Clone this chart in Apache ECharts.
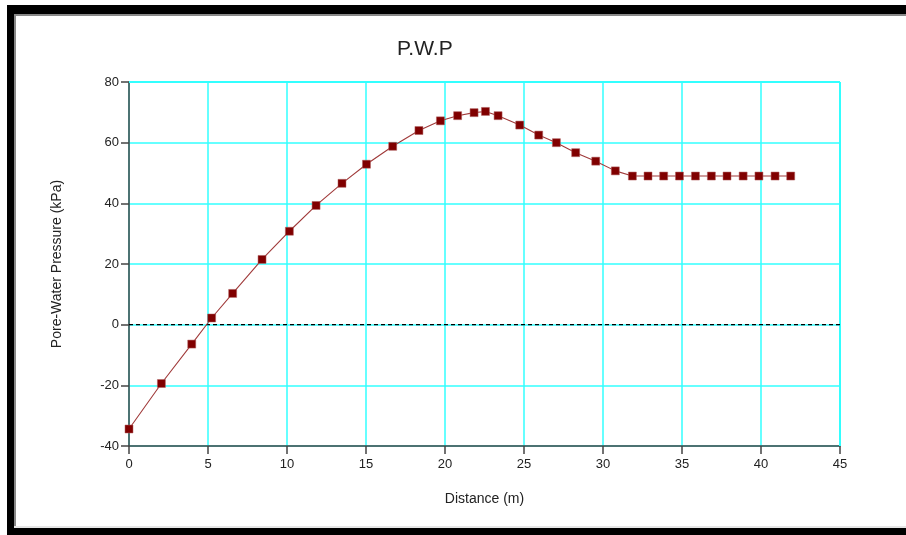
<!DOCTYPE html>
<html>
<head>
<meta charset="utf-8">
<script src="https://cdn.jsdelivr.net/npm/echarts@6/dist/echarts.min.js"></script>
<style>
html,body{margin:0;padding:0;background:#fff;}
#c{width:906px;height:535px;}
</style>
</head>
<body>
<div id="c"></div>
<script>
var titleText = 'P.W.P';
var xAxisName = 'Distance (m)';
var yAxisName = 'Pore-Water Pressure (kPa)';
var distance = [0, 2.05, 3.97, 5.23, 6.56, 8.42, 10.15, 11.84, 13.48, 15.03, 16.69, 18.35, 19.71, 20.8, 21.84, 22.56, 23.36, 24.73, 25.93, 27.05, 28.27, 29.54, 30.78, 31.86, 32.85, 33.84, 34.84, 35.85, 36.86, 37.85, 38.87, 39.87, 40.89, 41.88];
var pressure = [-34.4, -19.4, -6.4, 2.2, 10.3, 21.5, 30.8, 39.3, 46.6, 52.9, 58.8, 64.0, 67.2, 68.9, 69.9, 70.3, 68.9, 65.8, 62.5, 60.0, 56.7, 53.9, 50.7, 49.0, 49.0, 49.0, 49.0, 49.0, 49.0, 49.0, 49.0, 49.0, 49.0, 49.0];
var referenceLine = 0;

var chart = echarts.init(document.getElementById('c'), null, {renderer: 'canvas'});
var pts = distance.map(function (d, i) { return [d, pressure[i]]; });
var font = '"Liberation Sans", Arial, sans-serif';
chart.setOption({
  animation: false,
  backgroundColor: '#ffffff',
  title: {
    text: titleText, left: 392, top: 34,
    textStyle: {fontFamily: font, fontSize: 21, fontWeight: 'normal', color: '#222'}
  },
  graphic: [
    {type: 'rect', shape: {x: 7, y: 5, width: 899, height: 9}, style: {fill: '#000'}, silent: true},
    {type: 'rect', shape: {x: 14, y: 14, width: 892, height: 2}, style: {fill: '#888'}, silent: true},
    {type: 'rect', shape: {x: 7, y: 5, width: 7, height: 530}, style: {fill: '#000'}, silent: true},
    {type: 'rect', shape: {x: 14, y: 14, width: 2, height: 512}, style: {fill: '#888'}, silent: true},
    {type: 'rect', shape: {x: 14, y: 526, width: 892, height: 2}, style: {fill: '#e6e6e6'}, silent: true},
    {type: 'rect', shape: {x: 7, y: 528, width: 899, height: 7}, style: {fill: '#000'}, silent: true}
  ],
  grid: {left: 129, right: 66, top: 82, bottom: 89, containLabel: false,
    show: true, borderColor: '#33ffff', borderWidth: 0},
  xAxis: {
    type: 'value', min: 0, max: 45, interval: 5,
    name: xAxisName, nameLocation: 'middle', nameGap: 46,
    nameTextStyle: {fontFamily: font, fontSize: 14, color: '#222'},
    axisLine: {show: true, onZero: false, lineStyle: {color: '#444', width: 1.5}},
    axisTick: {show: true, length: 8, inside: false, lineStyle: {color: '#444', width: 1.5}},
    axisLabel: {fontFamily: font, fontSize: 13, color: '#222', margin: 12},
    splitLine: {show: true, lineStyle: {color: '#33ffff', width: 1.5}}
  },
  yAxis: {
    type: 'value', min: -40, max: 80, interval: 20,
    name: yAxisName, nameLocation: 'middle', nameGap: 65, nameRotate: 90,
    nameTextStyle: {fontFamily: font, fontSize: 14, color: '#222'},
    axisLine: {show: true, onZero: false, lineStyle: {color: '#444', width: 1.5}},
    axisTick: {show: true, length: 8, inside: false, lineStyle: {color: '#444', width: 1.5}},
    axisLabel: {fontFamily: font, fontSize: 13, color: '#222', margin: 10},
    splitLine: {show: true, lineStyle: {color: '#33ffff', width: 1.5}}
  },
  series: [
    {
      type: 'line', data: [[0, referenceLine], [45, referenceLine]],
      symbol: 'none', silent: true,
      lineStyle: {color: '#000', width: 1.2, type: [4, 3]}, z: 3
    },
    {
      type: 'line', data: [[45, 80], [45, -40]], symbol: 'none', silent: true,
      lineStyle: {color: '#33ffff', width: 2}, z: 1
    },
    {
      type: 'line', data: [[0, 80], [45, 80]], symbol: 'none', silent: true,
      lineStyle: {color: '#33ffff', width: 2}, z: 1
    },
    {
      type: 'line', data: pts,
      symbol: 'rect', symbolSize: 8,
      itemStyle: {color: '#800000', borderColor: '#b06060', borderWidth: 0.5},
      lineStyle: {color: '#a03a3a', width: 1.1}, z: 5
    }
  ]
});
</script>
</body>
</html>
